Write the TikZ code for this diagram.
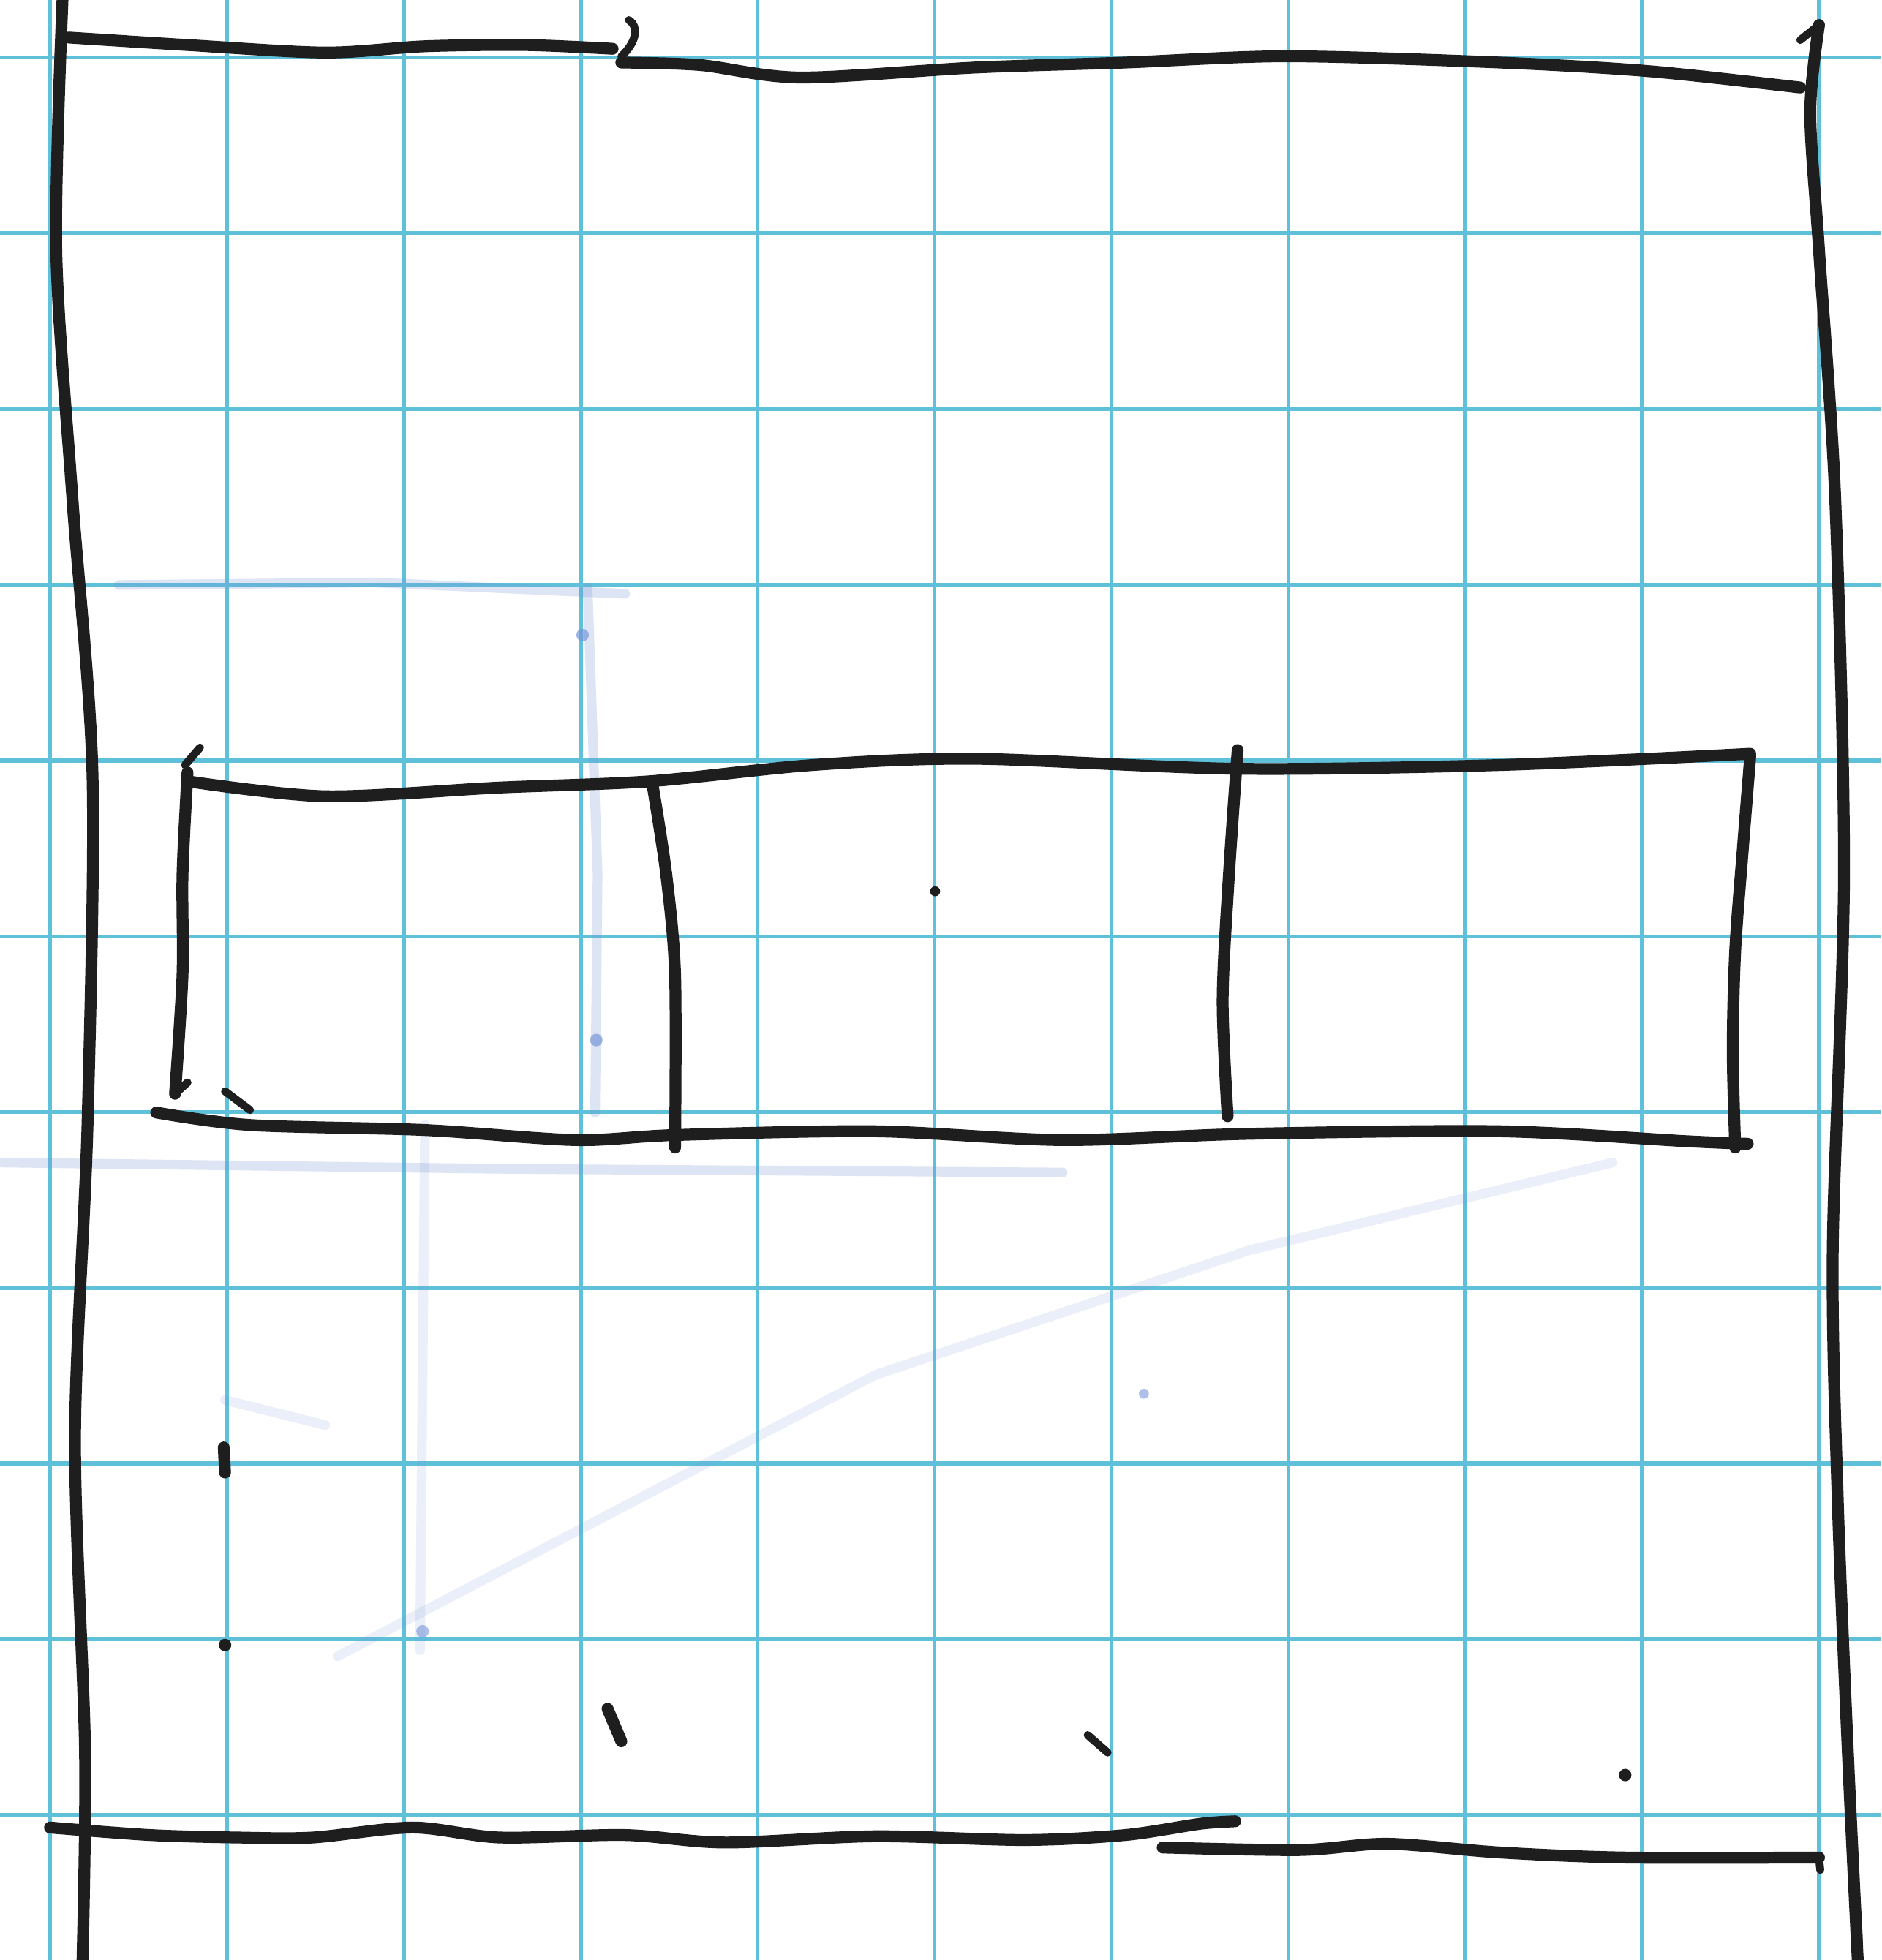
\documentclass[tikz,border=0pt]{standalone}
\usetikzlibrary{calc}

\definecolor{gridcol}{RGB}{95,192,218}
\definecolor{inkcol}{RGB}{30,30,30}
\definecolor{erasecol}{RGB}{120,150,215}

\begin{document}
\begin{tikzpicture}[
            x=0.01cm, y=-0.01cm,
            gridline/.style={draw=gridcol, line width=0.9pt},
            pen/.style={draw=inkcol, line width=2.7pt, line cap=round, line join=round},
            thinpen/.style={draw=inkcol, line width=1.8pt, line cap=round},
            % erased pencil marks
            erased/.style={draw=erasecol, line width=2.2pt, opacity=0.25, line cap=round},
            fainter/.style={erased, opacity=0.15},
            speck/.style={fill=inkcol}
        ]
            % --- paper ---
            \fill[white] (0,0) rectangle (1505,1568);
            \useasboundingbox (0,0) rectangle (1505,1568);

            % --- grid ---
            \foreach \gx in {0,...,10}
                \draw[gridline] ({40+141.5*\gx},0) -- ({40+141.5*\gx},1568);
            \foreach \gy in {0,...,10}
                \draw[gridline] (0,{46+140.6*\gy}) -- (1505,{46+140.6*\gy});

            % --- erased sketch lines ---
            \draw[erased] (95,468) -- (300,466) -- (500,475);
            \draw[erased] (470,470) -- (478,700) -- (476,890);
            \draw[erased] (0,930) -- (400,935) -- (850,938);
            \draw[fainter] (340,900) -- (338,1100) -- (336,1320);
            \draw[fainter] (270,1325) -- (700,1100) -- (1000,1000) -- (1290,930);
            \draw[fainter] (180,1120) -- (260,1140);
            \fill[erasecol, opacity=0.7] (466,508) circle (5);
            \fill[erasecol, opacity=0.7] (477,832) circle (5);
            \fill[erasecol, opacity=0.6] (915,1115) circle (4);
            \fill[erasecol, opacity=0.6] (338,1305) circle (5);

            % --- outer frame ---
            \coordinate (tl) at (50,0);
            \coordinate (bl) at (66,1568);
            \coordinate (tr) at (1455,20);
            \coordinate (br) at (1486,1568);

            \draw[pen] (tl) plot[smooth] coordinates {(50,0) (45,200) (58,400) (74,620) (70,900) (60,1150) (68,1400) (66,1568)};
            \draw[pen] plot[smooth] coordinates {(55,30) (150,36) (260,42) (340,37) (420,36) (490,39)};
            \draw[thinpen] (497,45) .. controls (508,35) and (512,22) .. (503,16);
            \draw[pen] plot[smooth] coordinates {(497,50) (560,52) (640,62) (780,54) (900,50) (1030,45) (1200,50) (1320,57) (1440,70)};
            \draw[thinpen] (1440,32) -- (1455,20);
            \draw[pen] plot[smooth] coordinates {(1455,20) (1448,90) (1455,200) (1468,400) (1475,700) (1466,1000) (1470,1200) (1478,1400) (1486,1568)};

            % --- inner box ---
            \coordinate (boxtl) at (150,625);
            \coordinate (boxbl) at (125,890);
            \coordinate (boxtr) at (1400,603);
            \coordinate (boxbr) at (1398,915);

            \draw[thinpen] (148,612) -- (160,598);
            \draw[pen] plot[smooth] coordinates {(150,625) (260,637) (400,630) (520,625) (650,612) (780,607) (990,615) (1200,612) (1400,603)};
            \draw[pen] plot[smooth] coordinates {(150,618) (146,700) (146,780) (140,875)};
            \draw[thinpen] (140,875) -- (150,866);
            \draw[pen] plot[smooth] coordinates {(125,890) (200,900) (340,904) (460,912) (540,908) (700,905) (850,912) (1000,907) (1200,905) (1350,913) (1398,915)};
            \draw[thinpen] (180,873) -- (200,888);
            \draw[pen] plot[smooth] coordinates {(1400,605) (1394,680) (1388,760) (1386,840) (1388,918)};

            % cell dividers
            \draw[pen] plot[smooth] coordinates {(522,628) (533,700) (540,780) (540,918)};
            \draw[pen] plot[smooth] coordinates {(990,600) (983,700) (978,800) (982,893)};
            \fill[speck] (748,713) circle (4);

            % --- bottom lines ---
            \draw[pen] plot[smooth] coordinates {(40,1462) (120,1468) (190,1470) (250,1470) (330,1462) (400,1470) (500,1468) (580,1474) (700,1469) (820,1472) (900,1468) (960,1459) (988,1457)};
            \draw[pen] plot[smooth] coordinates {(930,1478) (1040,1480) (1110,1475) (1200,1482) (1300,1486) (1455,1486)};
            \draw[thinpen] (1455,1486) -- (1456,1496);

            % --- stray marks ---
            \draw[pen] (179,1158) -- (180,1178);
            \fill[speck] (180,1316) circle (5);
            \draw[pen] (486,1367) -- (497,1393);
            \draw[thinpen] (870,1388) -- (886,1402);
            \fill[speck] (1300,1420) circle (5);
            \draw[thinpen] (1486,1530) -- (1487,1560);
        \end{tikzpicture}
\end{document}
